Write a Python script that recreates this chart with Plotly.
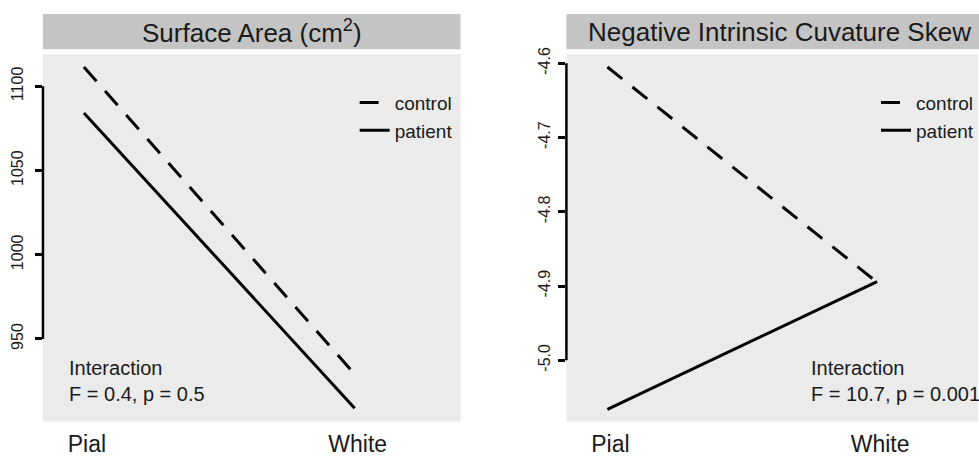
import plotly.graph_objects as go

# ---------------- data ----------------
conditions = ["Pial", "White"]
groups = ["control", "patient"]
surface_control = [1111.5, 929.0]
surface_patient = [1084.2, 908.9]
skew_control = [-4.605, -4.895]
skew_patient = [-5.066, -4.894]
surface_ticks = [950, 1000, 1050, 1100]
skew_ticks = [-5.0, -4.9, -4.8, -4.7, -4.6]
skew_ticktext = ["-5.0", "-4.9", "-4.8", "-4.7", "-4.6"]
panel_titles = ["Surface Area (cm<sup>2</sup>)", "Negative Intrinsic Cuvature Skew"]
stats_text = ["Interaction<br>F = 0.4, p = 0.5", "Interaction<br>F = 10.7, p = 0.001"]

# ---------------- layout helpers ----------------
W, H = 979, 457
FONT = "Liberation Sans, Arial, Helvetica, sans-serif"
TXT = "#1a1a1a"
PANEL_BG = "#ebebeb"
STRIP_BG = "#c4c4c4"


def px(x):
    return x / W


def py(y):
    return (H - y) / H


dash_style = "19px,13px"
styles = {"control": dash_style, "patient": "solid"}

fig = go.Figure()

panels = [
    ("x", "y", "legend", {"control": surface_control, "patient": surface_patient}),
    ("x2", "y2", "legend2", {"control": skew_control, "patient": skew_patient}),
]
for xa, ya, lg, series in panels:
    for g in groups:
        fig.add_trace(go.Scatter(
            x=conditions, y=series[g], mode="lines", name=g,
            xaxis=xa, yaxis=ya, legend=lg,
            line=dict(color="black", width=3, dash=styles[g]),
            hoverinfo="skip",
        ))

common_x = dict(type="category", showgrid=False, zeroline=False, showline=False,
                ticks="", tickfont=dict(family=FONT, size=23, color=TXT),
                ticklabelstandoff=6, ticklabelshift=3, fixedrange=True)
common_y = dict(showgrid=False, zeroline=False, showline=False, ticks="outside",
                ticklen=7, tickwidth=2.5, tickcolor="black", tickangle=-90,
                tickfont=dict(family=FONT, size=16, color=TXT), fixedrange=True)

fig.update_layout(
    width=W, height=H,
    margin=dict(l=0, r=0, t=0, b=0),
    paper_bgcolor="white",
    plot_bgcolor=PANEL_BG,
    xaxis=dict(domain=[px(43), px(461)], range=[-0.1513, 1.391], anchor="y", **common_x),
    yaxis=dict(domain=[py(422), py(48)], range=[900.9, 1119.1], anchor="x",
               tickvals=surface_ticks, ticklabelstandoff=6, **common_y),
    xaxis2=dict(domain=[px(567), 1.0], range=[-0.1519, 1.374], anchor="y2", **common_x),
    yaxis2=dict(domain=[py(422), py(48)], range=[-5.0826, -4.5877], anchor="x2",
                tickvals=skew_ticks, ticktext=skew_ticktext, ticklabelstandoff=2, **common_y),
    legend=dict(x=px(355), y=py(78), xanchor="left", yanchor="top",
                bgcolor="rgba(0,0,0,0)", font=dict(family=FONT, size=19, color=TXT),
                itemclick=False, itemdoubleclick=False),
    legend2=dict(x=px(877), y=py(78), xanchor="left", yanchor="top",
                 bgcolor="rgba(0,0,0,0)", font=dict(family=FONT, size=19, color=TXT),
                 itemclick=False, itemdoubleclick=False),
    showlegend=True,
)

# strips (facet headers)
strip_bounds = [(43, 461), (567, 993)]
for (x0, x1), title in zip(strip_bounds, panel_titles):
    fig.add_shape(type="rect", xref="paper", yref="paper",
                  x0=px(x0), x1=px(x1), y0=py(43), y1=py(7),
                  fillcolor=STRIP_BG, line=dict(width=0), layer="below")
    fig.add_annotation(xref="paper", yref="paper", x=px((x0 + x1) / 2), y=py(25),
                       text=title, showarrow=False, xanchor="center", yanchor="middle",
                       font=dict(family=FONT, size=26, color=TXT))

# range-frame axis lines spanning the tick range
for xd, ya, ticks in [("x domain", "y", surface_ticks), ("x2 domain", "y2", skew_ticks)]:
    fig.add_shape(type="line", xref=xd, yref=ya, x0=0, x1=0,
                  y0=min(ticks), y1=max(ticks), line=dict(color="black", width=2.5))

# interaction statistics
for xpos, txt in zip([67, 810], stats_text):
    fig.add_annotation(xref="paper", yref="paper", x=px(xpos), y=py(381),
                       text=txt, showarrow=False, xanchor="left", yanchor="middle",
                       align="left", font=dict(family=FONT, size=20, color=TXT))

fig.write_html(
    "out.html",
    config={"displayModeBar": False},
    post_script="document.body.style.margin='0';document.body.style.overflow='hidden';",
)
